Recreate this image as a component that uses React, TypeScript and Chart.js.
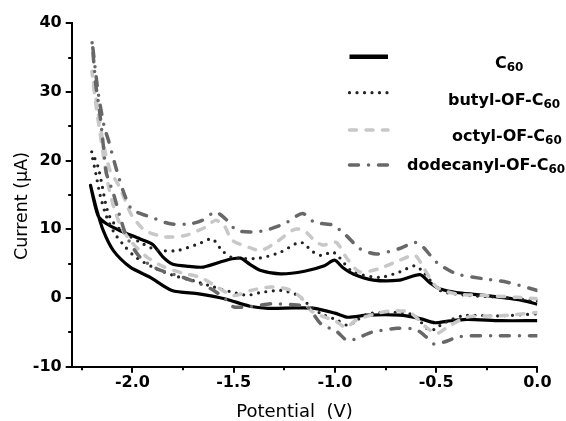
import React, { useEffect, useRef } from 'react';
import { Chart, registerables } from 'chart.js';

Chart.register(...registerables);

// ---- data ----
const seriesNames = ['C', 'butyl-OF-C', 'octyl-OF-C', 'dodecanyl-OF-C'];
const seriesSubscript = '60';
const xTicks = [-2.0, -1.5, -1.0, -0.5, 0.0];
const xMinorTicks = [-2.25, -1.75, -1.25, -0.75, -0.25];
const yTicks = [-10, 0, 10, 20, 30, 40];
const yMinorTicks = [-5, 5, 15, 25, 35];
const xRange = [-2.3, 0.0];
const yRange = [-10, 40];
const xTitle = 'Potential  (V)';
const yTitle = 'Current (\u03bcA)';

// [potential (V), current (uA)] — each branch runs from the switching vertex to 0 V
const c60Upper = [[-2.207, 16.4], [-2.17, 12.0], [-2.128, 10.8], [-2.061, 9.8], [-1.962, 8.6], [-1.9, 7.8], [-1.85, 6.0], [-1.8, 4.9], [-1.72, 4.6], [-1.65, 4.5], [-1.524, 5.6], [-1.466, 5.8], [-1.42, 4.9], [-1.366, 4.0], [-1.267, 3.5], [-1.15, 3.9], [-1.052, 4.7], [-1.002, 5.5], [-0.96, 4.4], [-0.91, 3.5], [-0.81, 2.6], [-0.68, 2.6], [-0.58, 3.4], [-0.53, 2.2], [-0.48, 1.3], [-0.4, 0.8], [-0.3, 0.5], [-0.18, 0.1], [-0.08, -0.3], [0, -0.9]];
const c60Lower = [[-2.207, 16.4], [-2.18, 13.2], [-2.144, 9.8], [-2.094, 6.9], [-2.011, 4.5], [-1.912, 3.0], [-1.805, 1.1], [-1.672, 0.6], [-1.54, -0.15], [-1.42, -1.2], [-1.33, -1.5], [-1.2, -1.45], [-1.1, -1.5], [-1.0, -2.2], [-0.936, -2.8], [-0.84, -2.5], [-0.68, -2.5], [-0.58, -3.0], [-0.506, -3.6], [-0.45, -3.4], [-0.35, -3.1], [-0.18, -3.3], [0, -3.3]];

const butylUpper = [[-2.202, 21.3], [-2.17, 19.1], [-2.152, 16.7], [-2.128, 13.2], [-2.103, 11.3], [-2.045, 9.6], [-1.962, 8.1], [-1.88, 7.0], [-1.78, 6.9], [-1.672, 7.9], [-1.606, 8.6], [-1.557, 6.9], [-1.507, 5.9], [-1.375, 5.8], [-1.267, 6.7], [-1.18, 8.1], [-1.15, 7.9], [-1.118, 6.9], [-1.068, 6.2], [-1.011, 6.7], [-0.978, 5.9], [-0.912, 3.8], [-0.78, 3.0], [-0.68, 3.8], [-0.605, 4.7], [-0.564, 3.8], [-0.481, 1.1], [-0.349, 0.4], [-0.184, 0.1], [0, -0.4]];
const butylLower = [[-2.202, 21.3], [-2.18, 18.0], [-2.16, 15.0], [-2.13, 12.0], [-2.09, 9.5], [-2.04, 7.6], [-1.987, 6.0], [-1.9, 4.5], [-1.8, 3.3], [-1.697, 2.5], [-1.598, 1.6], [-1.5, 0.8], [-1.433, 0.4], [-1.366, 0.8], [-1.267, 1.1], [-1.184, 0.4], [-1.118, -1.3], [-1.068, -2.3], [-0.99, -3.2], [-0.936, -4.0], [-0.9, -3.4], [-0.837, -2.3], [-0.67, -2.1], [-0.605, -2.6], [-0.539, -4.6], [-0.5, -4.5], [-0.473, -3.8], [-0.37, -2.6], [-0.184, -2.6], [0, -2.3]];

const octylUpper = [[-2.2, 33.0], [-2.17, 27.0], [-2.14, 22.0], [-2.11, 18.5], [-2.07, 16.5], [-2.036, 14.2], [-2.003, 12.0], [-1.937, 9.8], [-1.838, 8.9], [-1.739, 9.1], [-1.64, 10.3], [-1.59, 11.3], [-1.548, 10.6], [-1.507, 8.4], [-1.408, 7.2], [-1.366, 6.9], [-1.29, 8.1], [-1.2, 10.0], [-1.151, 9.8], [-1.102, 8.4], [-1.06, 7.7], [-0.994, 8.1], [-0.944, 5.9], [-0.878, 3.8], [-0.779, 4.3], [-0.68, 5.5], [-0.605, 6.2], [-0.564, 4.5], [-0.498, 1.6], [-0.399, 0.6], [-0.25, 0.35], [-0.1, 0.1], [0, -0.1]];
const octylLower = [[-2.2, 33.0], [-2.18, 28.0], [-2.16, 24.0], [-2.14, 20.0], [-2.12, 16.5], [-2.09, 13.0], [-2.05, 10.0], [-2.0, 8.0], [-1.93, 6.0], [-1.85, 4.6], [-1.75, 3.6], [-1.664, 3.0], [-1.582, 1.6], [-1.5, 0.35], [-1.416, 1.1], [-1.317, 1.6], [-1.234, 1.3], [-1.168, 0.1], [-1.118, -1.85], [-1.068, -2.6], [-1.0, -3.3], [-0.944, -4.3], [-0.9, -3.3], [-0.8, -2.3], [-0.713, -1.85], [-0.63, -2.1], [-0.547, -4.3], [-0.498, -5.2], [-0.448, -4.3], [-0.349, -2.8], [-0.184, -2.6], [0, -2.1]];

const dodecanylUpper = [[-2.2, 37.5], [-2.17, 30.0], [-2.14, 25.0], [-2.119, 23.0], [-2.078, 18.6], [-2.045, 15.5], [-2.011, 13.2], [-1.979, 12.5], [-1.912, 11.8], [-1.813, 10.8], [-1.714, 10.8], [-1.656, 11.3], [-1.59, 12.5], [-1.54, 11.5], [-1.482, 9.8], [-1.366, 9.7], [-1.25, 10.8], [-1.16, 12.3], [-1.1, 11.0], [-1.01, 10.6], [-0.944, 9.1], [-0.878, 7.2], [-0.796, 6.4], [-0.68, 7.2], [-0.605, 8.1], [-0.564, 7.4], [-0.498, 5.2], [-0.399, 3.5], [-0.266, 2.8], [-0.15, 2.3], [0, 1.1]];
const dodecanylLower = [[-2.2, 37.5], [-2.19, 34.0], [-2.18, 30.8], [-2.165, 27.8], [-2.15, 24.0], [-2.14, 21.0], [-2.128, 18.1], [-2.094, 15.2], [-2.061, 11.8], [-2.028, 8.9], [-1.962, 5.9], [-1.879, 4.25], [-1.75, 3.0], [-1.664, 2.05], [-1.598, 1.1], [-1.532, -0.4], [-1.5, -1.3], [-1.416, -1.25], [-1.317, -0.85], [-1.217, -0.95], [-1.135, -1.35], [-1.068, -3.8], [-0.994, -4.8], [-0.94, -6.2], [-0.9, -6.0], [-0.82, -5.0], [-0.69, -4.4], [-0.6, -4.6], [-0.556, -5.5], [-0.51, -6.7], [-0.46, -6.4], [-0.38, -5.6], [-0.2, -5.5], [0, -5.5]];

const seriesBranches = [
  [c60Upper, c60Lower],
  [butylUpper, butylLower],
  [octylUpper, octylLower],
  [dodecanylUpper, dodecanylLower],
];

// ---- styles ----
const lineStyles = [
  { color: '#000000', width: 3.2, dash: [] as number[], cap: 'butt' as CanvasLineCap, legendWidth: 4.5 },
  { color: '#222222', width: 3.2, dash: [0, 7.5], cap: 'round' as CanvasLineCap, legendWidth: 3.2 },
  { color: '#c8c8c8', width: 3.5, dash: [7, 9.5], cap: 'round' as CanvasLineCap, legendWidth: 3.5 },
  { color: '#686868', width: 3.5, dash: [9, 10, 0, 10], cap: 'round' as CanvasLineCap, legendWidth: 3.5 },
];
const legendLayout = [
  { lineY: 56.7, textX: 495, baseY: 68.3 },
  { lineY: 92.7, textX: 448, baseY: 104.5 },
  { lineY: 130, textX: 452, baseY: 140.5 },
  { lineY: 165, textX: 407, baseY: 170 },
];

const FONT = 'DejaVu Sans';

function loop(upper: number[][], lower: number[][]) {
  const up = upper.slice().reverse().map(([x, y]) => ({ x, y }));
  const lo = lower.slice(1).map(([x, y]) => ({ x, y }));
  return [...up, ...lo];
}

const decorPlugin = {
  id: 'decor',
  afterDraw(chart: any) {
    const { ctx, chartArea } = chart;
    const xs = chart.scales.x;
    const ys = chart.scales.y;
    ctx.save();
    // tick marks
    ctx.strokeStyle = '#000';
    ctx.lineWidth = 2;
    ctx.lineCap = 'butt';
    ctx.setLineDash([]);
    const b = chartArea.bottom;
    const l = chartArea.left;
    const tick = (vals: number[], len: number, horiz: boolean) => {
      vals.forEach((v) => {
        ctx.beginPath();
        if (horiz) {
          const px = Math.round(xs.getPixelForValue(v));
          ctx.moveTo(px, b);
          ctx.lineTo(px, b + len);
        } else {
          const py = Math.round(ys.getPixelForValue(v));
          ctx.moveTo(l, py);
          ctx.lineTo(l - len, py);
        }
        ctx.stroke();
      });
    };
    tick(xTicks, 6, true);
    tick(xMinorTicks, 3.5, true);
    tick(yTicks, 6, false);
    tick(yMinorTicks, 3.5, false);

    // axis titles
    ctx.fillStyle = '#000';
    ctx.font = `18px "${FONT}"`;
    ctx.textAlign = 'center';
    ctx.textBaseline = 'alphabetic';
    ctx.fillText(xTitle, 294.5, 417);
    ctx.save();
    ctx.translate(26.5, 206);
    ctx.rotate(-Math.PI / 2);
    ctx.font = `17.5px "${FONT}"`;
    ctx.fillText(yTitle, 0, 0);
    ctx.restore();

    // legend
    seriesNames.forEach((name, i) => {
      const st = lineStyles[i];
      const lay = legendLayout[i];
      ctx.beginPath();
      ctx.strokeStyle = st.color;
      ctx.lineWidth = st.legendWidth;
      ctx.lineCap = st.cap;
      ctx.setLineDash(st.dash);
      ctx.moveTo(349.5, lay.lineY);
      ctx.lineTo(388, lay.lineY);
      ctx.stroke();
      ctx.setLineDash([]);
      ctx.fillStyle = '#000';
      ctx.textAlign = 'left';
      ctx.font = `bold 16px "${FONT}"`;
      ctx.fillText(name, lay.textX, lay.baseY);
      const w = ctx.measureText(name).width;
      ctx.font = `bold 12px "${FONT}"`;
      ctx.fillText(seriesSubscript, lay.textX + w, lay.baseY + 3);
    });
    ctx.restore();
  },
};

export default function App() {
  const ref = useRef<HTMLCanvasElement | null>(null);
  useEffect(() => {
    if (!ref.current) return;
    const datasets = seriesBranches.map(([u, lo], i) => ({
      label: seriesNames[i] + seriesSubscript,
      data: loop(u, lo),
      showLine: true,
      borderColor: lineStyles[i].color,
      borderWidth: lineStyles[i].width,
      borderDash: lineStyles[i].dash,
      borderCapStyle: lineStyles[i].cap,
      borderJoinStyle: 'round' as CanvasLineJoin,
      pointRadius: 0,
      pointHoverRadius: 0,
      tension: 0.25,
      fill: false,
      order: 4 - i,
    }));
    const chart = new Chart(ref.current, {
      type: 'scatter',
      data: { datasets },
      options: {
        animation: false,
        responsive: true,
        maintainAspectRatio: false,
        devicePixelRatio: 1,
        events: [],
        layout: { padding: { top: 23.2, right: 28.6, left: 0, bottom: 0 } },
        plugins: { legend: { display: false }, tooltip: { enabled: false }, title: { display: false } },
        scales: {
          x: {
            type: 'linear',
            min: xRange[0],
            max: xRange[1],
            afterBuildTicks: (s: any) => { s.ticks = xTicks.map((v) => ({ value: v })); },
            afterFit: (s: any) => { s.height = 54.3; },
            grid: { display: false, drawTicks: false },
            border: { display: true, color: '#000', width: 2 },
            ticks: {
              padding: 7,
              color: '#000',
              font: { family: FONT, weight: 'bold', size: 16 },
              maxRotation: 0,
              callback: (v: any) => Number(v).toFixed(1),
            },
          },
          y: {
            type: 'linear',
            min: yRange[0],
            max: yRange[1],
            afterBuildTicks: (s: any) => { s.ticks = yTicks.map((v) => ({ value: v })); },
            afterFit: (s: any) => { s.width = 71.7; },
            grid: { display: false, drawTicks: false },
            border: { display: true, color: '#000', width: 2 },
            ticks: {
              padding: 10,
              color: '#000',
              font: { family: FONT, weight: 'bold', size: 16 },
              callback: (v: any) => String(v),
            },
          },
        },
      },
      plugins: [decorPlugin],
    } as any);
    return () => chart.destroy();
  }, []);
  return (
    <div style={{ position: 'absolute', left: 0, top: 0, width: 566, height: 421, background: '#fff' }}>
      <canvas ref={ref} />
    </div>
  );
}
